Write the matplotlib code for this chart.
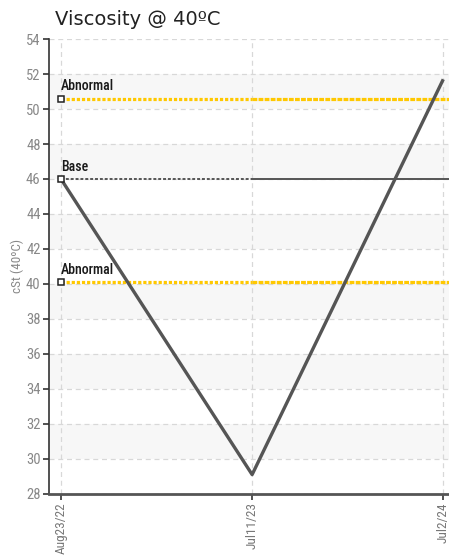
import matplotlib
matplotlib.use("Agg")
import matplotlib.pyplot as plt
from matplotlib import font_manager

dates = ["Aug23/22", "Jul11/23", "Jul2/24"]
viscosity = [46.0, 29.1, 51.7]
base = 46.0
abnormal_hi = 50.6
abnormal_lo = 40.1
yticks = list(range(28, 55, 2))

names = set(f.name for f in font_manager.fontManager.ttflist)
narrow = "DejaVu Sans"
for cand in ["Roboto Condensed", "Archivo Narrow", "Barlow Semi Condensed", "Asap Condensed"]:
    if cand in names:
        narrow = cand
        break

fig = plt.figure(figsize=(4.49, 5.58), dpi=100)
ax = fig.add_axes([0.109, 0.115, 0.891, 0.815])

x = list(range(len(dates)))

# alternating bands
for lo in range(30, 54, 4):
    ax.axhspan(lo, lo + 2, color="#f7f7f7", zorder=0, lw=0)

ax.grid(True, color="#d8d8d8", linestyle=(0, (4, 3)), lw=0.9, zorder=1)

# reference lines
ax.plot([x[0], x[1]], [abnormal_hi, abnormal_hi], color="#ffc800", lw=2.3, ls=(0, (1, 0.6)), zorder=2)
ax.plot([x[1], x[2] + 0.03], [abnormal_hi, abnormal_hi], color="#ffc800", lw=2.3, ls=(0, (1.5, 0.4)), zorder=2)
ax.plot([x[0], x[1]], [abnormal_lo, abnormal_lo], color="#ffc800", lw=2.3, ls=(0, (1, 0.6)), zorder=2)
ax.plot([x[1], x[2] + 0.03], [abnormal_lo, abnormal_lo], color="#ffc800", lw=2.3, ls=(0, (1.5, 0.4)), zorder=2)
ax.plot([x[0], x[1]], [base, base], color="#555555", lw=1.4, ls=(0, (1.5, 1)), zorder=2)
ax.plot([x[1], x[2] + 0.03], [base, base], color="#555555", lw=1.4, zorder=2)

# data line
ax.plot(x, viscosity, color="#555555", lw=2.4, zorder=3, solid_capstyle="butt")

for val, lab in [(abnormal_hi, "Abnormal"), (base, "Base"), (abnormal_lo, "Abnormal")]:
    ax.plot([x[0]], [val], marker="s", ms=4.5, mfc="white", mec="#222222", mew=1.1, zorder=5, clip_on=False)
    ax.text(x[0], val + 0.3, lab, fontsize=10, color="#1a1a1a", family=narrow,
            fontweight="medium", va="bottom", ha="left")

ax.set_xlim(-0.063, 2.03)
ax.set_ylim(28, 54)
ax.set_yticks(yticks)
ax.set_xticks(x)
ax.set_xticklabels(dates, rotation=90, family=narrow, fontsize=9.5, color="#777777")
ax.set_yticklabels([str(t) for t in yticks], family=narrow, fontsize=10.5, color="#888888")
ax.tick_params(axis="both", length=4, width=1.2, color="#333333", pad=2)

for s in ["top", "right"]:
    ax.spines[s].set_visible(False)
ax.spines["left"].set_color("#333333")
ax.spines["left"].set_linewidth(1.2)
ax.spines["bottom"].set_color("#555555")
ax.spines["bottom"].set_linewidth(2)

ax.set_ylabel("cSt (40ºC)", family=narrow, fontsize=9.5, color="#888888")
ax.yaxis.set_label_coords(-0.062, 0.5)

fig.text(0.122, 0.965, "Viscosity @ 40ºC", fontsize=14, color="#222222", va="center", ha="left")

fig.savefig("out.png", dpi=100)
